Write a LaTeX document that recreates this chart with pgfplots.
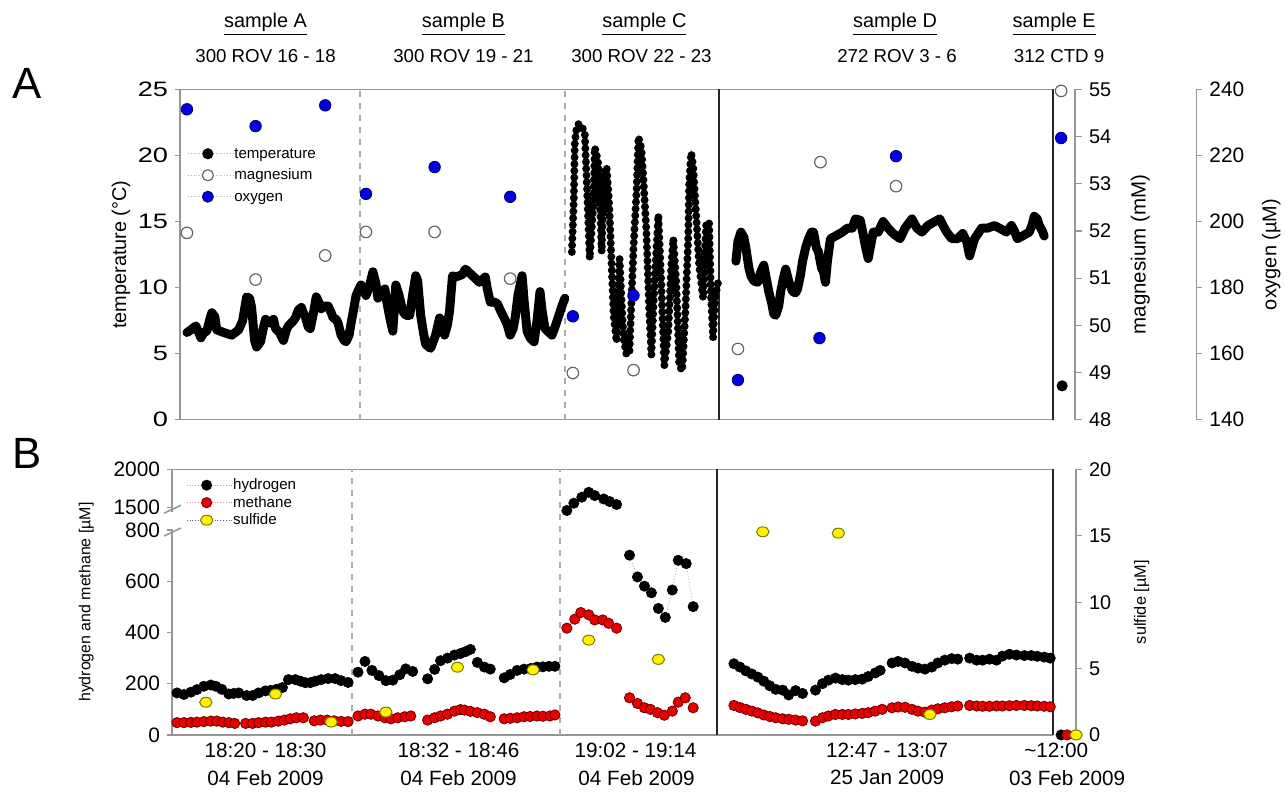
\documentclass[border=0pt]{standalone}
\usepackage{pgfplots}
\pgfplotsset{compat=1.18}
\usepackage{graphicx}
\usepackage{fontspec}
\setmainfont{Liberation Sans}
\definecolor{axgray}{RGB}{150,150,150}
\definecolor{oxblue}{RGB}{0,0,225}
\definecolor{oxedge}{RGB}{0,0,110}
\definecolor{mred}{RGB}{230,0,0}
\definecolor{medge}{RGB}{110,0,0}
\definecolor{syellow}{RGB}{255,240,0}
\definecolor{sedge}{RGB}{130,120,0}
\pgfplotsset{
  base/.style={scale only axis, anchor=south west, hide x axis,
    /pgf/number format/assume math mode=true,
    tick align=outside, major tick length=3pt,
    tick style={axgray, line width=0.6pt},
    axis line style={axgray, line width=0.7pt},
    tick label style={font=\fontsize{10.5}{12}\selectfont},
    clip=false},
  legimg/.style={legend image code/.code={\path (0pt,0pt) -- (22.5pt,0pt);\draw[##1, mark repeat=2, mark phase=2] plot coordinates {(0pt,0pt)(10pt,0pt)(16pt,0pt)};}},
  hyd/.style={draw=gray!70, densely dotted, line width=0.4pt, mark=*, mark size=2.6pt, mark options={solid, fill=black, draw=black, line width=0.3pt}},
  met/.style={draw=red!45, densely dotted, line width=0.4pt, mark=*, mark size=2.6pt, mark options={solid, fill=mred, draw=medge, line width=0.4pt}},
  sul/.style={draw=blue!30!gray, densely dotted, line width=0.4pt, mark=*, mark size=2.5pt, mark options={solid, fill=syellow, draw=sedge, line width=0.5pt, xscale=1.25}},
}
\begin{document}
\begin{tikzpicture}
\path (0pt,0pt) rectangle (643.5pt,396pt);

% ---------------- Panel A : temperature ----------------
\begin{axis}[base, at={(90.5pt,185pt)}, width=450pt, height=166pt,
  xmin=181, xmax=1081, ymin=0, ymax=25,
  axis y line*=left, ytick={0,5,...,25}, major tick length=2.5pt,
  yticklabel={\scalebox{1.3}[1]{\pgfmathprintnumber{\tick}}},
  ylabel={temperature (°C)},
  ylabel style={at={(axis description cs:-0.066,0.5)}, anchor=center, font=\fontsize{10}{12}\selectfont},
  legimg,
  legend style={draw=none, fill=none, at={(0.008,0.833)}, anchor=north west,
    font=\fontsize{7.6}{9}\selectfont, row sep=2pt, inner sep=0pt,
    nodes={inner sep=0.6pt, text height=6pt, text depth=1.6pt}},
  legend cell align=left]
\addlegendimage{draw=axgray!70, densely dotted, mark=*, mark size=2.6pt, mark options={solid, fill=black, draw=black}}
\addlegendentry{temperature}
\addlegendimage{draw=axgray!70, densely dotted, mark=*, mark size=2.8pt, mark options={solid, fill=white, draw=gray!80!black, line width=0.6pt}}
\addlegendentry{magnesium}
\addlegendimage{draw=axgray!70, densely dotted, mark=*, mark size=2.8pt, mark options={solid, fill=oxblue, draw=oxedge, line width=0.4pt}}
\addlegendentry{oxygen}
\draw[axgray, line width=0.7pt] (axis cs:181,25) -- (axis cs:1059,25);
\draw[axgray, line width=0.7pt] (axis cs:181,0) -- (axis cs:1059,0);
\draw[axgray!80, dashed, line width=0.7pt] (axis cs:362,0) -- (axis cs:362,25);
\draw[axgray!80, dashed, line width=0.7pt] (axis cs:568,0) -- (axis cs:568,25);
\draw[black!85, line width=1.1pt] (axis cs:723,0) -- (axis cs:723,25);
\draw[black!85, line width=1.1pt] (axis cs:1059,0) -- (axis cs:1059,25);
\addplot[black, line width=4.5pt, line join=round, line cap=round, forget plot] table {
188 6.6
192 6.8
197 7.1
202 6.2
205 6.6
208 6.7
211 7.6
213 8.1
216 7.8
218 6.8
225 6.6
233 6.4
240 6.8
244 7.5
248 9.3
251 9.2
253 8.5
256 6.0
258 5.5
262 5.9
265 7.0
267 7.6
270 7.4
272 7.3
275 7.6
277 6.9
281 6.6
285 6.0
288 6.8
290 7.1
294 7.4
297 7.7
300 8.3
303 8.5
305 8.1
307 7.8
310 7.0
312 6.9
315 8.0
318 9.3
320 9.0
323 8.4
326 8.6
330 8.6
333 8.1
335 7.7
338 7.6
340 7.3
343 6.4
346 6.0
348 5.9
351 6.4
353 7.3
356 8.5
358 9.4
361 9.9
363 10.2
366 9.9
368 9.4
371 10.0
375 11.2
378 10.3
380 9.2
383 9.6
387 9.9
389 8.9
392 7.7
395 6.7
398 10.2
401 9.5
405 8.2
408 7.9
412 7.9
415 9.5
418 10.9
420 10.5
423 7.9
426 6.5
428 5.7
433 5.4
438 6.4
442 7.7
445 7.4
447 6.4
450 7.2
452 8.2
455 10.9
458 10.8
462 10.9
465 11.0
468 11.4
471 11.2
475 10.9
478 10.7
482 10.4
485 10.6
488 10.8
490 9.9
493 8.9
497 8.9
500 8.8
503 8.3
507 7.7
510 7.2
513 6.4
516 6.9
518 7.7
521 9.5
525 10.9
527 9.0
530 6.7
533 6.2
537 5.9
540 7.5
543 9.7
545 8.3
548 6.9
552 6.6
555 6.4
558 7.0
562 7.9
565 8.6
568 9.2
};
\addplot[gray, line width=0.5pt, forget plot] table {
575 12.7
577 16.7
578 21.0
580 22.2
582 22.4
585 22.2
588 21.7
590 18.0
593 12.2
595 14.5
597 16.7
598 20.6
600 20.0
602 19.2
604 15.0
605 12.7
607 18.0
610 19.1
612 17.0
613 15.5
615 11.7
617 7.9
620 5.9
623 12.2
625 9.0
627 6.2
630 4.9
633 5.2
635 9.2
637 13.0
640 17.2
642 21.4
645 20.5
647 18.2
650 14.2
653 7.9
655 4.9
658 10.2
662 15.5
665 10.2
668 4.1
672 6.7
675 11.7
677 13.7
680 10.4
683 4.1
686 3.7
689 7.9
692 13.7
693 18.0
695 20.2
697 19.2
700 15.5
703 11.7
707 9.2
710 14.7
713 15.0
715 9.2
717 6.2
719 9.2
722 10.4
};
\addplot[black, line width=4pt, line cap=round, dash pattern=on 0pt off 3.4pt, forget plot] table {
575 12.7
577 16.7
578 21.0
580 22.2
582 22.4
585 22.2
588 21.7
590 18.0
593 12.2
595 14.5
597 16.7
598 20.6
600 20.0
602 19.2
604 15.0
605 12.7
607 18.0
610 19.1
612 17.0
613 15.5
615 11.7
617 7.9
620 5.9
623 12.2
625 9.0
627 6.2
630 4.9
633 5.2
635 9.2
637 13.0
640 17.2
642 21.4
645 20.5
647 18.2
650 14.2
653 7.9
655 4.9
658 10.2
662 15.5
665 10.2
668 4.1
672 6.7
675 11.7
677 13.7
680 10.4
683 4.1
686 3.7
689 7.9
692 13.7
693 18.0
695 20.2
697 19.2
700 15.5
703 11.7
707 9.2
710 14.7
713 15.0
715 9.2
717 6.2
719 9.2
722 10.4
};
\addplot[black, line width=4.5pt, line join=round, line cap=round, forget plot] table {
740 12.0
742 13.5
745 14.2
748 13.8
750 13.0
753 11.5
755 10.9
758 10.5
762 10.4
765 11.2
768 11.7
771 10.5
773 9.7
776 8.8
778 8.0
780 7.9
783 8.6
785 9.7
788 10.8
790 11.4
793 10.5
797 9.7
800 9.6
802 9.9
805 11.0
807 12.0
810 13.0
813 13.7
816 14.2
818 14.2
821 13.0
823 12.7
826 11.5
828 11.2
830 10.4
832 12.0
835 13.7
840 13.9
847 14.2
852 14.5
857 14.5
860 15.2
865 15.1
868 14.0
870 13.2
873 12.2
875 13.0
878 14.2
883 14.2
888 15.0
893 14.5
898 14.1
905 13.7
910 14.5
917 15.2
922 14.5
927 14.2
933 14.7
940 15.0
945 15.2
949 14.6
952 14.2
957 13.7
963 13.7
968 14.1
972 13.5
975 12.4
978 13.2
980 13.7
987 14.5
993 14.5
1000 14.7
1005 14.5
1012 14.2
1017 14.7
1020 14.3
1023 13.7
1028 13.9
1035 14.2
1038 14.8
1040 15.4
1043 15.2
1045 14.7
1048 14.3
1050 13.9
};
\addplot[only marks, mark=*, mark size=2.6pt, black, forget plot] coordinates {(1068,2.56)};
\end{axis}

% ---------------- Panel A : magnesium ----------------
\begin{axis}[base, at={(90.5pt,185pt)}, width=450pt, height=166pt,
  xmin=181, xmax=1081, ymin=48, ymax=55,
  axis y line*=right, ytick={48,49,...,55}, major tick length=3.5pt,
  tick label style={font=\fontsize{10}{12}\selectfont},
  ylabel={magnesium (mM)},
  ylabel style={at={(axis description cs:1.073,0.5)}, anchor=center, font=\fontsize{10.3}{12}\selectfont}]
\addplot[only marks, mark=*, mark size=2.9pt, mark options={fill=white, draw=gray!80!black, line width=0.6pt}] coordinates {
(188,51.96) (257,50.97) (327,51.48) (368,51.98) (437,51.98) (513,50.99)
(576,48.99) (637,49.05) (742,49.50) (825,53.46) (901,52.95) (1067,54.97)};
\end{axis}

% ---------------- Panel A : oxygen ----------------
\begin{axis}[base, at={(90.5pt,185pt)}, width=511pt, height=166pt,
  xmin=181, xmax=1203, ymin=140, ymax=240,
  axis y line*=right, ytick={140,160,...,240}, major tick length=3pt,
  ylabel={oxygen (µM)},
  ylabel style={at={(axis description cs:1.0735,0.5)}, anchor=center, font=\fontsize{10}{12}\selectfont}]
\addplot[only marks, mark=*, mark size=2.9pt, mark options={fill=oxblue, draw=oxedge, line width=0.4pt}] coordinates {
(188,234.0) (257,228.9) (327,235.2) (368,208.4) (437,216.5) (513,207.5)
(576,171.3) (637,177.6) (742,152.0) (824,164.7) (901,219.8) (1067,225.3)};
\end{axis}

% ---------------- Panel B : hydrogen and methane ----------------
\begin{axis}[base, at={(86.5pt,26.5pt)}, width=454.5pt, height=133.5pt,
  xmin=173, xmax=1082, ymin=0, ymax=1037,
  y filter/.expression={y>1000 ? 889.3+(y-1500)*0.2954 : y},
  axis y line*=left, ytick={0,200,400,600,800,889.3,1037},
  yticklabels={0,200,400,600,800,1500,2000}, major tick length=2.5pt,
  ylabel={hydrogen and methane [µM]},
  ylabel style={at={(axis description cs:-0.095,0.5)}, anchor=center, font=\fontsize{8}{10}\selectfont},
  legimg,
  legend style={draw=none, fill=none, at={(0.0154,0.975)}, anchor=north west,
    font=\fontsize{7.6}{9}\selectfont, row sep=0pt, inner sep=0pt,
    nodes={inner sep=0.6pt, text height=6pt, text depth=1.6pt}},
  legend cell align=left]
\addlegendimage{hyd}
\addlegendentry{hydrogen}
\addlegendimage{met}
\addlegendentry{methane}
\addlegendimage{sul}
\addlegendentry{sulfide}
\draw[axgray, line width=0.7pt] (axis cs:173,1037) -- (axis cs:1059,1037);
\draw[axgray, line width=0.7pt] (axis cs:173,0) -- (axis cs:1059,0);
\draw[axgray!80, dashed, line width=0.7pt] (axis cs:354,0) -- (axis cs:354,1037);
\draw[axgray!80, dashed, line width=0.7pt] (axis cs:563,0) -- (axis cs:563,1037);
\draw[black!85, line width=1.1pt] (axis cs:721,0) -- (axis cs:721,1037);
\draw[black!85, line width=1.1pt] (axis cs:1059,0) -- (axis cs:1059,1037);
\fill[white] (axis cs:170,806) rectangle (axis cs:176,872);
\draw[axgray, line width=0.8pt] (axis cs:165,777) -- (axis cs:182,808);
\draw[axgray, line width=0.8pt] (axis cs:165,866) -- (axis cs:182,897);
% hydrogen
\addplot[hyd, forget plot] table {
178 164
185 158
192 167
198 177
205 190
212 195
217 190
223 178
230 160
235 162
240 164
};
\addplot[hyd, forget plot] table {
248 154
254 154
260 164
267 172
272 174
278 178
284 185
290 216
297 216
302 210
307 204
312 204
};
\addplot[hyd, forget plot] table {
317 210
323 216
330 220
337 220
343 212
350 205
};
\addplot[hyd, forget plot] table {
360 245
367 287
374 252
381 232
388 212
395 214
402 235
408 258
415 248
};
\addplot[hyd, forget plot] table {
430 219
437 256
443 290
450 300
457 312
463 318
468 325
473 334
480 283
487 265
493 257
};
\addplot[hyd, forget plot] table {
507 223
513 236
520 252
527 257
534 260
540 265
546 266
552 268
558 268
};
\addplot[hyd, forget plot] table {
570 1457
577 1553
585 1632
592 1697
598 1654
607 1609
613 1575
620 1536
};
\addplot[hyd, forget plot] table {
633 702
641 617
648 581
655 555
662 494
669 459
676 566
682 682
690 669
697 501
};
\addplot[hyd, forget plot] table {
738 278
744 265
750 250
756 238
762 226
768 210
774 192
780 178
787 175
793 156
800 173
807 162
};
\addplot[hyd, forget plot] table {
820 175
827 200
833 214
840 222
847 216
853 214
860 216
867 218
873 228
880 242
885 252
};
\addplot[hyd, forget plot] table {
897 281
903 287
910 281
917 268
923 261
930 257
937 265
943 281
950 292
957 298
963 296
};
\addplot[hyd, forget plot] table {
975 300
982 292
988 292
995 296
1002 292
1008 308
1015 315
1022 312
1030 310
1037 310
1043 307
1050 304
1056 300
};
\addplot[hyd, forget plot] coordinates {(1067,0)};
% methane
\addplot[met, forget plot] table {
178 48
185 48
192 49
198 50
205 52
212 54
218 54
224 50
230 48
236 45
};
\addplot[met, forget plot] table {
247 45
254 45
260 48
267 50
273 50
280 54
286 58
292 63
298 67
305 67
};
\addplot[met, forget plot] table {
316 55
322 58
329 58
336 55
343 53
350 52
};
\addplot[met, forget plot] table {
360 74
367 81
373 81
380 74
387 67
393 63
400 67
407 71
413 74
};
\addplot[met, forget plot] table {
430 58
437 67
443 74
450 81
457 93
463 99
467 97
473 92
480 87
487 81
493 71
};
\addplot[met, forget plot] table {
507 63
513 65
520 67
527 71
533 72
540 74
546 73
553 74
558 78
};
\addplot[met, forget plot] table {
570 417
578 452
584 478
592 469
598 449
606 449
612 436
620 417
};
\addplot[met, forget plot] table {
633 145
641 123
648 106
654 100
661 87
668 77
676 93
682 128
689 145
697 106
};
\addplot[met, forget plot] table {
738 115
744 107
750 100
756 93
762 86
768 78
774 72
780 67
787 63
793 61
800 58
807 55
};
\addplot[met, forget plot] table {
820 54
827 67
833 74
840 80
847 80
853 80
860 82
867 84
873 87
880 93
887 100
};
\addplot[met, forget plot] table {
897 106
903 109
910 108
917 100
923 93
930 89
937 97
943 102
950 106
957 110
963 113
};
\addplot[met, forget plot] table {
975 115
982 113
988 112
995 112
1002 113
1008 113
1015 114
1022 115
1030 115
1037 114
1043 113
1050 112
1056 110
};
\addplot[met, forget plot] coordinates {(1073,0)};
\end{axis}

% ---------------- Panel B : sulfide ----------------
\begin{axis}[base, at={(86.5pt,26.5pt)}, width=454.5pt, height=133.5pt,
  xmin=173, xmax=1082, ymin=0, ymax=20,
  axis y line*=right, ytick={0,5,...,20}, major tick length=3pt,
  tick label style={font=\fontsize{10}{12}\selectfont},
  ylabel={sulfide [µM]},
  ylabel style={at={(axis description cs:1.0726,0.5)}, anchor=center, font=\fontsize{8.2}{10}\selectfont}]
\addplot[sul, only marks] coordinates {
(207,2.46) (277,3.08) (333,0.97) (388,1.72) (460,5.10) (536,4.90)
(592,7.14) (662,5.69) (767,15.3) (843,15.2) (935,1.54) (1082,0)};
\end{axis}

% ---------------- texts ----------------
\begin{scope}[x=0.5pt, y=-0.5pt, yshift=396pt]
\node[font=\fontsize{22}{24}\selectfont] at (27,84) {A};
\node[font=\fontsize{22}{24}\selectfont] at (27,456) {B};
\begin{scope}[every node/.style={font=\fontsize{10}{12}\selectfont}]
\node at (267,24) {\underline{sample A}};
\node at (466,24) {\underline{sample B}};
\node at (648,24) {\underline{sample C}};
\node at (900,24) {\underline{sample D}};
\node at (1060,24) {\underline{sample E}};
\end{scope}
\begin{scope}[every node/.style={font=\fontsize{9.4}{11}\selectfont}]
\node at (267,56) {300 ROV 16 - 18};
\node at (466,56) {300 ROV 19 - 21};
\node at (645,56) {300 ROV 22 - 23};
\node at (902,56) {272 ROV 3 - 6};
\node at (1065,56) {312 CTD 9};
\end{scope}
\begin{scope}[every node/.style={font=\fontsize{10.4}{12}\selectfont}]
\node at (267,755) {18:20 - 18:30};
\node at (461,755) {18:32 - 18:46};
\node at (639,755) {19:02 - 19:14};
\node at (892,755) {12:47 - 13:07};
\node at (1062,755) {\textasciitilde 12:00};
\node at (267,782) {04 Feb 2009};
\node at (461,782) {04 Feb 2009};
\node at (640,782) {04 Feb 2009};
\node at (892,782) {25 Jan 2009};
\node at (1073,782) {03 Feb 2009};
\end{scope}
\end{scope}
\end{tikzpicture}
\end{document}
